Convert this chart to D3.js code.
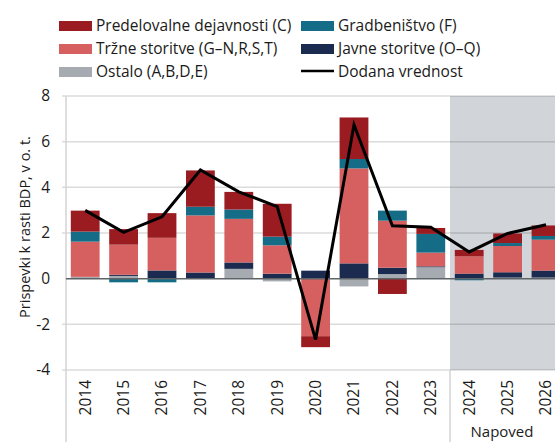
<!DOCTYPE html>
<html>
<head>
<meta charset="utf-8">
<script src="https://cdn.jsdelivr.net/npm/d3@7"></script>
<style>
  body { margin: 0; background: #fff; }
  svg text { font-family: "Open Sans", "Noto Sans", sans-serif; fill: #1a1a1a; }
</style>
</head>
<body>
<div id="chart"></div>
<script>
// podatki (prispevki k rasti BDP, o. t.)
const years = ["2014", "2015", "2016", "2017", "2018", "2019", "2020", "2021", "2022", "2023", "2024", "2025", "2026"];
const forecastYears = ["2024", "2025", "2026"];
const ostalo = [0.08, 0.12, 0, 0, 0.43, -0.12, 0, -0.34, 0.2, 0.5, 0, 0.05, 0.05];
const javne = [0, 0.05, 0.36, 0.27, 0.28, 0.22, 0.35, 0.67, 0.28, 0.04, 0.22, 0.23, 0.3];
const trzne = [1.54, 1.32, 1.43, 2.5, 1.91, 1.24, -2.52, 4.16, 2.06, 0.6, 0.76, 1.15, 1.36];
const gradb = [0.44, -0.16, -0.16, 0.38, 0.41, 0.38, 0, 0.41, 0.44, 0.82, -0.07, 0.13, 0.16];
const predel = [0.92, 0.68, 1.08, 1.59, 0.77, 1.44, -0.48, 1.82, -0.67, 0.26, 0.28, 0.42, 0.46];
const dodana = [2.99, 2.03, 2.71, 4.76, 3.8, 3.16, -2.67, 6.74, 2.32, 2.25, 1.17, 1.98, 2.36];
const yTicks = [-4, -2, 0, 2, 4, 6, 8];

const series = [
    { key: "ostalo", label: "Ostalo (A,B,D,E)", color: "#a6abb1", values: ostalo },
    { key: "javne", label: "Javne storitve (O\u2013Q)", color: "#1b2b4f", values: javne },
    { key: "trzne", label: "Tržne storitve (G\u2013N,R,S,T)", color: "#d65f5f", values: trzne },
    { key: "gradb", label: "Gradbeništvo (F)", color: "#146c86", values: gradb },
    { key: "predel", label: "Predelovalne dejavnosti (C)", color: "#9a1b20", values: predel }
];

var width = 555, height = 442;
var plotLeft = 66, plotTop = 96, plotBottom = 370;
var step = 38.4;

var svg = d3.select("#chart").append("svg")
    .attr("width", width)
    .attr("height", height);

var x = d3.scaleBand()
    .domain(years)
    .range([plotLeft, plotLeft + step * years.length])
    .paddingInner(0.25)
    .paddingOuter(0.125);

var y = d3.scaleLinear()
    .domain([-4, 8])
    .range([plotBottom, plotTop]);

// napoved - sivo ozadje
var fStart = x(forecastYears[0]) - x.step() * x.paddingInner() / 2;
svg.append("rect")
    .attr("x", fStart)
    .attr("y", plotTop)
    .attr("width", width - fStart)
    .attr("height", plotBottom - plotTop)
    .attr("fill", "#d1d5d9");

// mreža
svg.selectAll(".grid")
    .data(yTicks.filter(d => d !== 0))
    .enter()
    .append("line")
    .attr("x1", plotLeft - 4)
    .attr("x2", width)
    .attr("y1", d => y(d))
    .attr("y2", d => y(d))
    .attr("stroke", "#000")
    .attr("stroke-opacity", 0.14)
    .attr("stroke-width", 1.5);

// osi
svg.append("line")
    .attr("x1", plotLeft).attr("x2", plotLeft)
    .attr("y1", plotTop).attr("y2", height)
    .attr("stroke", "#d3d3d3").attr("stroke-width", 1.5);
svg.append("line")
    .attr("x1", fStart).attr("x2", fStart)
    .attr("y1", plotBottom).attr("y2", height)
    .attr("stroke", "#d3d3d3").attr("stroke-width", 1.5);

svg.selectAll(".ylab")
    .data(yTicks)
    .enter()
    .append("text")
    .attr("x", 50)
    .attr("y", d => y(d))
    .attr("dy", "0.35em")
    .attr("text-anchor", "end")
    .style("font-size", "15.5px")
    .text(d => d);

svg.append("text")
    .attr("transform", "translate(25," + (y(2) - 6) + ") rotate(-90)")
    .attr("text-anchor", "middle")
    .attr("dy", "0.35em")
    .style("font-size", "14.5px")
    .text("Prispevki k rasti BDP, v o. t.");

svg.selectAll(".xlab")
    .data(years)
    .enter()
    .append("text")
    .attr("transform", d => "translate(" + (x(d) + x.bandwidth() / 2) + "," + (plotBottom + 10) + ") rotate(-90)")
    .attr("text-anchor", "end")
    .attr("dy", "0.35em")
    .style("font-size", "15.5px")
    .text(d => d);

svg.append("text")
    .attr("x", (fStart + x(forecastYears[2]) + x.bandwidth() / 2) / 2 + 4)
    .attr("y", 437)
    .attr("text-anchor", "middle")
    .style("font-size", "15px")
    .text("Napoved");

// stolpci
var table = years.map((yr, i) => {
    var row = { year: yr };
    series.forEach(s => { row[s.key] = s.values[i]; });
    return row;
});

var stack = d3.stack()
    .keys(series.map(s => s.key))
    .offset(d3.stackOffsetDiverging);

var layers = svg.selectAll(".layer")
    .data(stack(table))
    .enter()
    .append("g")
    .attr("fill", (d, i) => series[i].color);

layers.selectAll("rect")
    .data(d => d)
    .enter()
    .append("rect")
    .attr("x", d => x(d.data.year))
    .attr("width", x.bandwidth())
    .attr("y", d => y(Math.max(d[0], d[1])))
    .attr("height", d => Math.abs(y(d[0]) - y(d[1])));

// ničelna črta
svg.append("line")
    .attr("x1", plotLeft).attr("x2", width)
    .attr("y1", y(0)).attr("y2", y(0))
    .attr("stroke", "#5d6367").attr("stroke-width", 1.5);

// dodana vrednost
var line = d3.line()
    .x((d, i) => x(years[i]) + x.bandwidth() / 2)
    .y(d => y(d));

svg.append("path")
    .datum(dodana)
    .attr("d", line)
    .attr("fill", "none")
    .attr("stroke", "#000")
    .attr("stroke-width", 3);

// legenda
var legendItems = [
    { label: series[4].label, color: series[4].color, col: 0, row: 0 },
    { label: series[2].label, color: series[2].color, col: 0, row: 1 },
    { label: series[0].label, color: series[0].color, col: 0, row: 2 },
    { label: series[3].label, color: series[3].color, col: 1, row: 0 },
    { label: series[1].label, color: series[1].color, col: 1, row: 1 },
    { label: "Dodana vrednost", color: "#000", col: 1, row: 2, isLine: true }
];
var colX = [59, 301];

var leg = svg.selectAll(".leg")
    .data(legendItems)
    .enter()
    .append("g")
    .attr("transform", d => "translate(" + colX[d.col] + "," + (26 + d.row * 23) + ")");

leg.filter(d => !d.isLine)
    .append("rect")
    .attr("x", 0).attr("y", -5)
    .attr("width", 33).attr("height", 10)
    .attr("fill", d => d.color);

leg.filter(d => d.isLine)
    .append("line")
    .attr("x1", 0).attr("x2", 33)
    .attr("y1", -1).attr("y2", -1)
    .attr("stroke", "#000").attr("stroke-width", 2.5);

leg.append("text")
    .attr("x", 37)
    .attr("dy", "0.35em")
    .style("font-size", "15.5px")
    .text(d => d.label);
</script>
</body>
</html>
